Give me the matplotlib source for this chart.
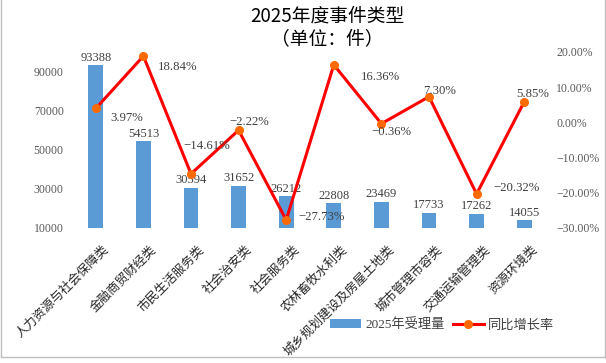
import numpy as np
import matplotlib
matplotlib.use("Agg")
import matplotlib.pyplot as plt
from matplotlib.lines import Line2D
from matplotlib.patches import Patch
from matplotlib.transforms import ScaledTranslation

# chart data
categories = [
    "人力资源与社会保障类", "金融商贸财经类", "市民生活服务类", "社会治安类",
    "社会服务类", "农林畜牧水利类", "城乡规划建设及房屋土地类",
    "城市管理市容类", "交通运输管理类", "资源环境类",
]
counts = [93388, 54513, 30594, 31652, 26212, 22808, 23469, 17733, 17262, 14055]
growth = [3.97, 18.84, -14.61, -2.22, -27.73, 16.36, -0.36, 7.30, -20.32, 5.85]
left_ticks = [10000, 30000, 50000, 70000, 90000]
right_ticks = [-30, -20, -10, 0, 10, 20]

# label offsets (pixels) for the growth labels
pct_offsets = [(31, -10), (34, -11), (16, 28), (11, 8), (35, 3),
               (47, -12), (10, -8), (11, 6), (40, 6), (8, 8)]

CJK = "Noto Sans CJK SC"
SERIF = ["Liberation Serif", CJK]
BAR_C = "#5B9BD5"
LINE_C = "#FF0000"
MARK_C = "#FF6A00"
TICK_C = "#595959"

fig = plt.figure(figsize=(6.06, 3.63), dpi=100)
W, H = 606, 363

ax = fig.add_axes([72 / W, (H - 228) / H, 476 / W, 176 / H])
x = np.arange(len(categories))
bars = ax.bar(x, counts, width=0.31, color=BAR_C, zorder=2)
ax.set_ylim(10000, 100000)
ax.set_xlim(-0.5, len(categories) - 0.5)
ax.set_yticks(left_ticks)
ax.set_yticklabels([str(v) for v in left_ticks], family=SERIF, fontsize=8.5, color=TICK_C)
ax.tick_params(axis="y", length=0, pad=6)
for s in ax.spines.values():
    s.set_visible(False)
ax.bar_label(bars, labels=[str(v) for v in counts], padding=1,
             fontsize=9, color="#404040", family=SERIF)

ax.set_xticks(x)
ax.set_xticklabels(categories, rotation=45, ha="right", va="center",
                   rotation_mode="anchor", family=CJK, fontsize=9, color="#262626")
ax.tick_params(axis="x", length=0, pad=14)
off = ScaledTranslation(11 / 100, 0, fig.dpi_scale_trans)
for lab in ax.get_xticklabels():
    lab.set_transform(lab.get_transform() + off)

ax2 = ax.twinx()
ax2.plot(x, growth, color=LINE_C, lw=2.2, marker="o", ms=5.5,
         mfc=MARK_C, mec=MARK_C, zorder=3)
ax2.set_ylim(-30, 20)
ax2.set_yticks(right_ticks)
ax2.set_yticklabels([("%.2f%%" % v).replace("-", "\u2212") for v in right_ticks],
                    family=SERIF, fontsize=8.5, color=TICK_C)
ax2.tick_params(axis="y", length=0, pad=6)
for s in ax2.spines.values():
    s.set_visible(False)

for xi, g, (dx, dy) in zip(x, growth, pct_offsets):
    ax2.annotate(("%.2f%%" % g).replace("-", "\u2212"), (xi, g),
                 xytext=(dx, dy), textcoords="offset pixels",
                 ha="center", va="center", fontsize=9.2,
                 color="#404040", family=SERIF)

# title
fig.text(327 / W, 1 - 16 / H, "2025年度事件类型", ha="center", va="center",
         fontsize=13.5, family=CJK, color="black")
fig.text(327 / W, 1 - 39 / H, "（单位：件）", ha="center", va="center",
         fontsize=13.5, family=CJK, color="black")

# legend
handles = [
    Patch(facecolor=BAR_C, edgecolor="none"),
    Line2D([0], [0], color=LINE_C, lw=2.2, marker="o", ms=5.5, mfc=MARK_C, mec=MARK_C),
]
fig.legend(handles, ["2025年受理量", "同比增长率"], loc="center",
           bbox_to_anchor=(442 / W, 1 - 325 / H), ncol=2, frameon=False,
           prop={"family": SERIF, "size": 9.5}, handlelength=2.4,
           handleheight=0.7, handletextpad=0.3, columnspacing=0.6,
           labelcolor="#404040")

# outer border
bc = "#BFBFBF"
fig.add_artist(Line2D([0.5 / W, 0.5 / W], [6 / H, 1], transform=fig.transFigure, color=bc, lw=1))
fig.add_artist(Line2D([605 / W, 605 / W], [6 / H, 1], transform=fig.transFigure, color=bc, lw=1))
fig.add_artist(Line2D([0.5 / W, 605 / W], [6 / H, 6 / H], transform=fig.transFigure, color=bc, lw=1))

fig.savefig("out.png", dpi=100)
